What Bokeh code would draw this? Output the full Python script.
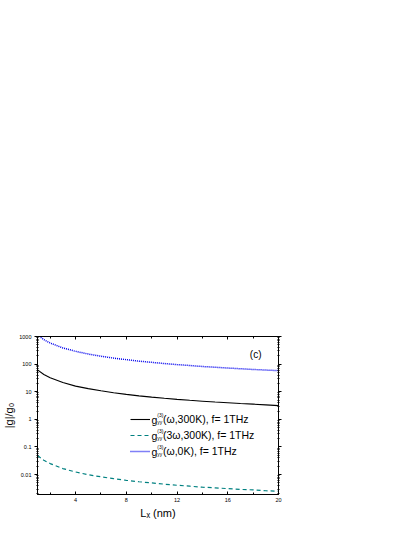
from bokeh.plotting import figure
from bokeh.models import (LinearAxis, LogAxis, FixedTicker, SingleIntervalTicker,
                          CustomJSTickFormatter, Label, Legend, LegendItem)
from bokeh.embed import file_html
from bokeh.resources import INLINE

# ---- data ----
lx = [1, 1.5, 2, 3, 4, 5, 6, 7, 8, 9, 10, 11, 12, 13, 14, 15, 16, 17, 18, 19, 20]
g_w_300K = [62, 42, 32, 21.5, 16, 13, 10.8, 9.2, 8.0, 7.1, 6.4, 5.8, 5.3, 4.9,
            4.55, 4.25, 4.0, 3.75, 3.55, 3.35, 3.15]
g_3w_300K = [0.049, 0.033, 0.025, 0.0165, 0.0124, 0.0099, 0.0083, 0.0071, 0.0062,
             0.0055, 0.0050, 0.0045, 0.0041, 0.0038, 0.0035, 0.0033, 0.0031,
             0.0029, 0.0028, 0.0026, 0.0025]
g_w_0K = [1150, 770, 580, 385, 290, 232, 193, 165, 145, 128, 116, 105, 96, 89,
          82, 77, 72, 68, 64, 61, 58]

y_ticks = [0.01, 0.1, 1, 10, 100, 1000]
y_decades = [-3, -2, -1, 0, 1, 2]
legend_tails = ["(\u03c9,300K), f= 1THz", "(3\u03c9,300K), f= 1THz", "(\u03c9,0K), f= 1THz"]
legend_sup = "(3)"
legend_sub = "yy"
x_label = "L\u2093 (nm)"
y_label = "|g|/g\u2080"
panel_tag = "(c)"

FONT = "Liberation Sans"
TICK_FS = "5.5px"

p = figure(width=399, height=521, output_backend="svg", toolbar_location=None,
           x_range=(1, 20), y_range=(0.0019, 1000), y_axis_type="log",
           min_border_left=30, min_border_right=121, min_border_top=336,
           min_border_bottom=23)
p.grid.visible = False
p.outline_line_color = "black"
p.outline_line_width = 1
p.background_fill_color = "white"
p.border_fill_color = "white"

xticker = SingleIntervalTicker(interval=4, num_minor_ticks=2)
yticker = FixedTicker(ticks=y_ticks,
                      minor_ticks=[m * 10 ** e for e in y_decades for m in range(2, 10)])
fmt_num = CustomJSTickFormatter(code="return String(parseFloat(tick.toPrecision(6)));")
fmt_none = CustomJSTickFormatter(code="return '';")


def style(ax, horizontal):
    ax.axis_line_color = "black"
    ax.axis_line_width = 1
    ax.major_tick_line_color = "black"
    ax.minor_tick_line_color = "black"
    ax.major_label_text_font = FONT
    ax.major_label_text_font_size = TICK_FS
    ax.major_label_text_color = "black"
    ax.axis_label_text_font = FONT
    ax.axis_label_text_font_style = "normal"
    ax.axis_label_text_font_size = "11px"
    ax.axis_label_text_color = "black"
    if horizontal:
        ax.major_tick_in = 3
        ax.major_tick_out = 0
        ax.minor_tick_in = 2
        ax.minor_tick_out = 0
    else:
        ax.major_tick_in = 0
        ax.major_tick_out = 3
        ax.minor_tick_in = 1
        ax.minor_tick_out = 1


xb = p.xaxis[0]
xb.ticker = xticker
xb.formatter = fmt_num
xb.axis_label = x_label
style(xb, True)
xb.major_label_standoff = 3
xb.axis_label_standoff = 2

yl = p.yaxis[0]
yl.ticker = yticker
yl.formatter = fmt_num
yl.axis_label = y_label
style(yl, False)
yl.major_label_standoff = 3
yl.axis_label_standoff = 1

xt = LinearAxis(ticker=xticker, formatter=fmt_none)
style(xt, True)
xt.major_label_standoff = 0
p.add_layout(xt, "above")

yr = LogAxis(ticker=yticker, formatter=fmt_none)
style(yr, False)
yr.major_label_standoff = 0
p.add_layout(yr, "right")

r1 = p.line(lx, g_w_300K, line_color="black", line_width=1.1)
r2 = p.line(lx, g_3w_300K, line_color="#008080", line_width=1.2, line_dash="4 3")
r3 = p.line(lx, g_w_0K, line_color="#0000ee", line_width=1.5, line_dash="1 1")

# legend (line samples + tail text), composite g^(3)_yy drawn as labels
leg_x, leg_bottom, row_h, row_gap, glyph_w, standoff = 93, 36, 14, 2, 20, 13
legend = Legend(items=[LegendItem(label=legend_tails[0], renderers=[r1]),
                       LegendItem(label=legend_tails[1], renderers=[r2]),
                       LegendItem(label=legend_tails[2], renderers=[r3])],
                location=(leg_x, leg_bottom), orientation="vertical",
                glyph_width=glyph_w, glyph_height=row_h, label_height=row_h,
                spacing=row_gap, padding=0, margin=0, label_standoff=standoff,
                border_line_color=None, background_fill_alpha=0,
                label_text_font=FONT, label_text_font_size="10.5px",
                label_text_baseline="alphabetic", label_text_color="black")
p.add_layout(legend)

n = len(legend_tails)
top = leg_bottom + n * row_h + (n - 1) * row_gap
for i in range(n):
    rc = top - row_h / 2 - i * (row_h + row_gap)
    gx = leg_x + glyph_w + 1
    p.add_layout(Label(x=gx, y=rc, x_units="screen", y_units="screen", text="g",
                       text_font=FONT, text_font_size="10.5px",
                       text_baseline="alphabetic", text_color="black"))
    p.add_layout(Label(x=gx + 5.8, y=rc + 4.5, x_units="screen", y_units="screen",
                       text=legend_sup, text_font=FONT, text_font_size="5px",
                       text_baseline="alphabetic", text_color="black"))
    p.add_layout(Label(x=gx + 5.8, y=rc - 2.5, x_units="screen", y_units="screen",
                       text=legend_sub, text_font=FONT, text_font_size="5px",
                       text_baseline="alphabetic", text_color="black"))

p.add_layout(Label(x=18.2, y=224, text=panel_tag, text_font=FONT, text_font_size="10px",
                   text_align="center", text_baseline="middle", text_color="black"))

open("out.html", "w").write(file_html(p, INLINE))
